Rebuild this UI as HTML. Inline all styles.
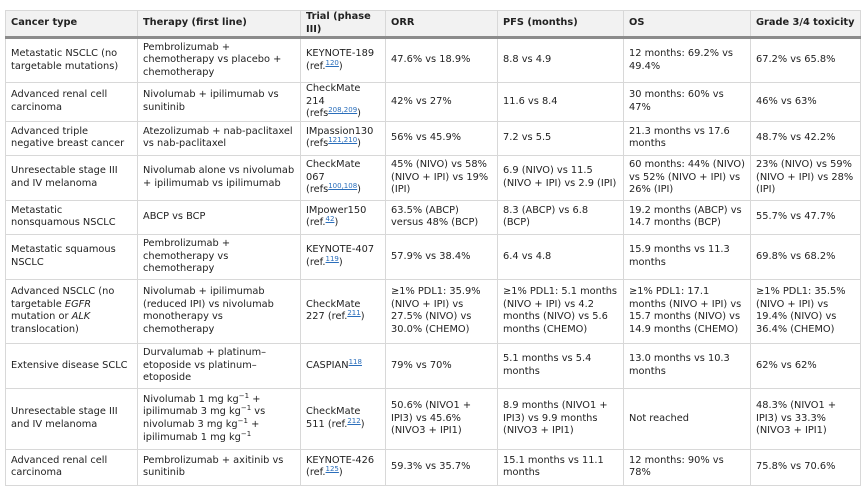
<!DOCTYPE html>
<html><head><meta charset="utf-8"><style>
html,body{margin:0;padding:0;background:#fff;width:865px;height:482px;overflow:hidden}
table{position:absolute;left:5px;top:10px;border-collapse:collapse;table-layout:fixed;font-family:"DejaVu Sans",sans-serif;font-size:9.8px;color:#222;line-height:12.6px}
td,th{border:1px solid #d8d8d8;padding:0 5px;vertical-align:middle;text-align:left;overflow:hidden}
th{background:#f2f2f2;font-weight:bold;height:22px;border-bottom:3px solid #8c8c8c}
sup{font-size:7px;color:#2a6ebb;text-decoration:underline;vertical-align:4px;line-height:0}
sup.e{color:#222;text-decoration:none}
</style></head><body>
<table>
<colgroup><col style="width:132px"><col style="width:163px"><col style="width:85px"><col style="width:112px"><col style="width:126px"><col style="width:127px"><col style="width:110px"></colgroup>
<tr><th>Cancer type</th><th>Therapy (first line)</th><th>Trial (phase III)</th><th>ORR</th><th>PFS (months)</th><th>OS</th><th>Grade 3/4 toxicity</th></tr>
<tr style="height:45px"><td>Metastatic NSCLC (no targetable mutations)</td><td>Pembrolizumab + chemotherapy vs placebo + chemotherapy</td><td>KEYNOTE-189 (ref.<sup>120</sup>)</td><td>47.6% vs 18.9%</td><td>8.8 vs 4.9</td><td>12 months: 69.2% vs 49.4%</td><td>67.2% vs 65.8%</td></tr>
<tr style="height:33px"><td>Advanced renal cell carcinoma</td><td>Nivolumab + ipilimumab vs sunitinib</td><td>CheckMate 214 (refs<sup>208,209</sup>)</td><td>42% vs 27%</td><td>11.6 vs 8.4</td><td>30 months: 60% vs 47%</td><td>46% vs 63%</td></tr>
<tr style="height:34px"><td>Advanced triple negative breast cancer</td><td>Atezolizumab + nab-paclitaxel vs nab-paclitaxel</td><td>IMpassion130 (refs<sup>121,210</sup>)</td><td>56% vs 45.9%</td><td>7.2 vs 5.5</td><td>21.3 months vs 17.6 months</td><td>48.7% vs 42.2%</td></tr>
<tr style="height:45px"><td>Unresectable stage III and IV melanoma</td><td>Nivolumab alone vs nivolumab + ipilimumab vs ipilimumab</td><td>CheckMate 067 (refs<sup>100,108</sup>)</td><td>45% (NIVO) vs 58% (NIVO + IPI) vs 19% (IPI)</td><td>6.9 (NIVO) vs 11.5 (NIVO + IPI) vs 2.9 (IPI)</td><td>60 months: 44% (NIVO) vs 52% (NIVO + IPI) vs 26% (IPI)</td><td>23% (NIVO) vs 59% (NIVO + IPI) vs 28% (IPI)</td></tr>
<tr style="height:34px"><td>Metastatic nonsquamous NSCLC</td><td>ABCP vs BCP</td><td>IMpower150 (ref.<sup>42</sup>)</td><td>63.5% (ABCP) versus 48% (BCP)</td><td>8.3 (ABCP) vs 6.8 (BCP)</td><td>19.2 months (ABCP) vs 14.7 months (BCP)</td><td>55.7% vs 47.7%</td></tr>
<tr style="height:45px"><td>Metastatic squamous NSCLC</td><td>Pembrolizumab + chemotherapy vs chemotherapy</td><td>KEYNOTE-407 (ref.<sup>119</sup>)</td><td>57.9% vs 38.4%</td><td>6.4 vs 4.8</td><td>15.9 months vs 11.3 months</td><td>69.8% vs 68.2%</td></tr>
<tr style="height:64px"><td>Advanced NSCLC (no targetable <i>EGFR</i> mutation or <i>ALK</i> translocation)</td><td>Nivolumab + ipilimumab (reduced IPI) vs nivolumab monotherapy vs chemotherapy</td><td>CheckMate 227 (ref.<sup>211</sup>)</td><td>≥1% PDL1: 35.9% (NIVO + IPI) vs 27.5% (NIVO) vs 30.0% (CHEMO)</td><td>≥1% PDL1: 5.1 months (NIVO + IPI) vs 4.2 months (NIVO) vs 5.6 months (CHEMO)</td><td>≥1% PDL1: 17.1 months (NIVO + IPI) vs 15.7 months (NIVO) vs 14.9 months (CHEMO)</td><td>≥1% PDL1: 35.5% (NIVO + IPI) vs 19.4% (NIVO) vs 36.4% (CHEMO)</td></tr>
<tr style="height:45px"><td>Extensive disease SCLC</td><td>Durvalumab + platinum–etoposide vs platinum–etoposide</td><td>CASPIAN<sup>118</sup></td><td>79% vs 70%</td><td>5.1 months vs 5.4 months</td><td>13.0 months vs 10.3 months</td><td>62% vs 62%</td></tr>
<tr style="height:61px"><td>Unresectable stage III and IV melanoma</td><td>Nivolumab 1 mg kg<sup class="e">−1</sup> + ipilimumab 3 mg kg<sup class="e">−1</sup> vs nivolumab 3 mg kg<sup class="e">−1</sup> + ipilimumab 1 mg kg<sup class="e">−1</sup></td><td>CheckMate 511 (ref.<sup>212</sup>)</td><td>50.6% (NIVO1 + IPI3) vs 45.6% (NIVO3 + IPI1)</td><td>8.9 months (NIVO1 + IPI3) vs 9.9 months (NIVO3 + IPI1)</td><td>Not reached</td><td>48.3% (NIVO1 + IPI3) vs 33.3% (NIVO3 + IPI1)</td></tr>
<tr style="height:36px"><td>Advanced renal cell carcinoma</td><td>Pembrolizumab + axitinib vs sunitinib</td><td>KEYNOTE-426 (ref.<sup>125</sup>)</td><td>59.3% vs 35.7%</td><td>15.1 months vs 11.1 months</td><td>12 months: 90% vs 78%</td><td>75.8% vs 70.6%</td></tr>
</table>
</body></html>
